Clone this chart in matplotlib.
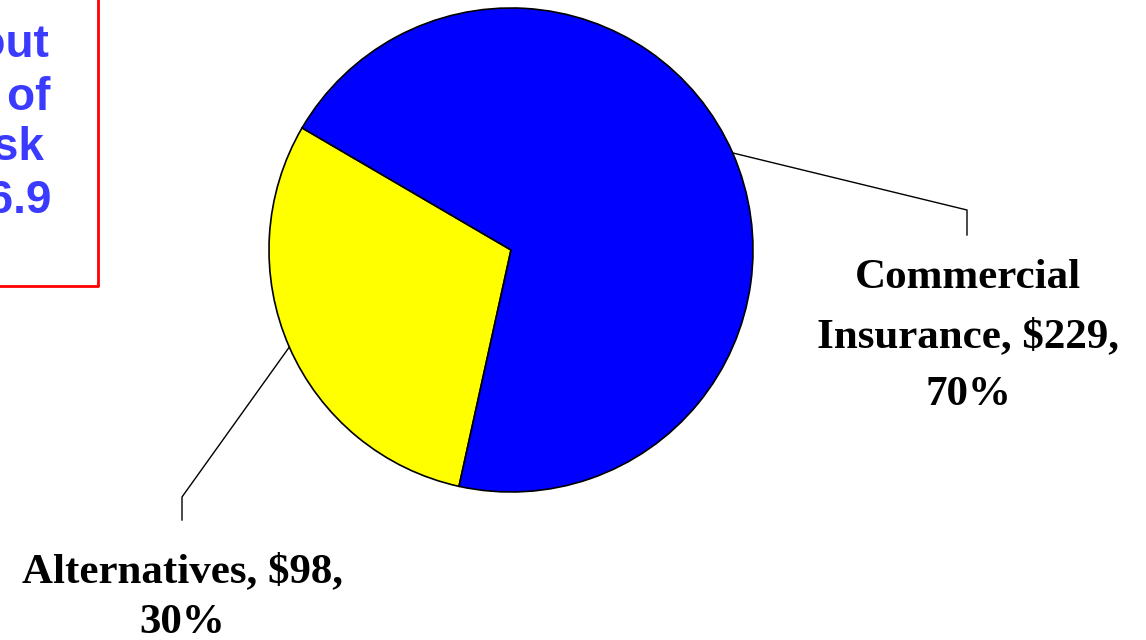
import matplotlib.pyplot as plt
import numpy as np

# --------------------------------------
labels = [["Alternatives, $98,", "30%"],
          ["Commercial", "Insurance, $229,", "70%"]]
values = [98, 229]
colors = ["#ffff00", "#0000ff"]
box_lines = ["Total about", "Amount of", "Risk", "$326.9"]
# --------------------------------------

W, H = 1146, 640
fig = plt.figure(figsize=(W / 100, H / 100), dpi=100)
ax = fig.add_axes([0, 0, 1, 1])

cx, cy, r = 511, H - 250, 242
wedges, _ = ax.pie(values, colors=colors, startangle=149.7, counterclock=True,
                   center=(cx, cy), radius=r, frame=True,
                   wedgeprops=dict(edgecolor="black", linewidth=1.2))
ax.set_xlim(0, W)
ax.set_ylim(0, H)
ax.set_aspect("equal")
ax.axis("off")

# leader lines and labels
elbows = [((182, H - 497), (182, H - 520), 182, [582, 633]),
          ((967, H - 210), (967, H - 235), 968, [288, 347, 405])]
for w, lab, (e1, e2, tx, bases) in zip(wedges, labels, elbows):
    a = np.deg2rad((w.theta1 + w.theta2) / 2)
    px, py = cx + r * np.cos(a), cy + r * np.sin(a)
    ax.plot([px, e1[0], e2[0]], [py, e1[1], e2[1]], color="black", lw=1)
    for t, b in zip(lab, bases):
        ax.text(tx, H - b, t, ha="center", va="baseline", fontsize=31,
                fontweight="bold", family="Liberation Serif")

# partially hidden text box at top left
ax.plot([-5, 98, 98, -5], [H + 5, H + 5, H - 286, H - 286], color="#ff0000", lw=2,
        clip_on=False)
rights = [49, 50, 45, 52]
ys = [57, 110, 160, 213]
for t, xr, y in zip(box_lines, rights, ys):
    ax.text(xr, H - y, t, ha="right", va="baseline", fontsize=33, fontweight="bold",
            family="Liberation Sans", color="#3b3bff")

fig.savefig("out.png", dpi=100)
